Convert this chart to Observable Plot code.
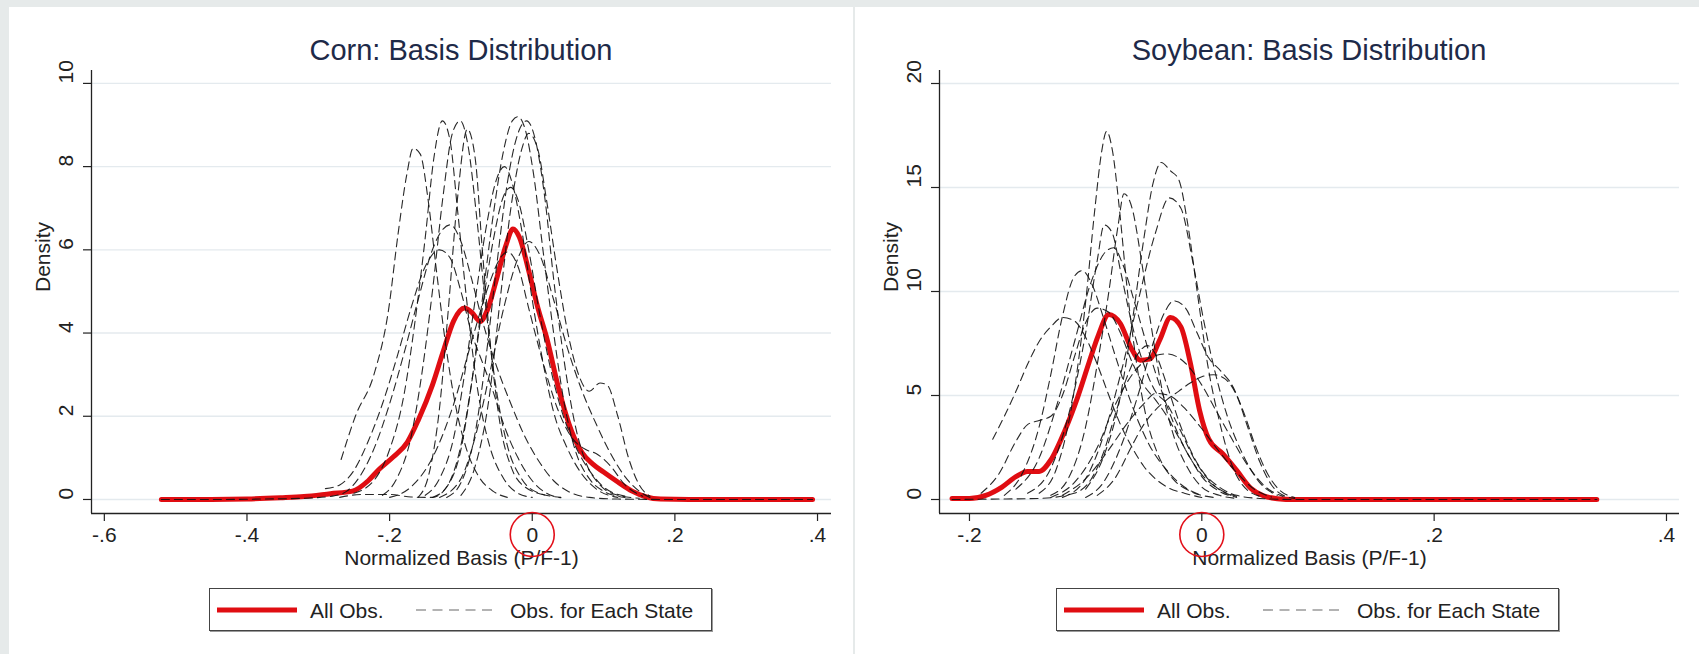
<!DOCTYPE html>
<html>
<head>
<meta charset="utf-8">
<script src="https://cdn.jsdelivr.net/npm/d3@7"></script>
<script src="https://cdn.jsdelivr.net/npm/@observablehq/plot@0.6"></script>
<style>
  html, body { margin: 0; padding: 0; }
  body { width: 1699px; height: 654px; overflow: hidden; background: #e6eaea; position: relative;
         font-family: "Liberation Sans", Arial, sans-serif; }
  .panel { position: absolute; top: 7px; height: 647px; background: #fff; }
  .chart { position: absolute; top: 0; }
  .title { position: absolute; transform: translate(-50%, -50%); font-size: 29px; color: #1e2a48; white-space: nowrap; }
  .legend { position: absolute; top: 588px; width: 503px; height: 43px; box-sizing: border-box;
            border: 1px solid #444; box-shadow: 1px 1px 0 #9a9a9a; background: #fff; }
</style>
</head>
<body>
<div class="panel" style="left:9px;width:844px"></div>
<div class="panel" style="left:855px;width:844px"></div>
<div id="corn" class="chart" style="left:0px"></div>
<div id="soy" class="chart" style="left:850px"></div>
<div class="title" style="left:461px;top:50px">Corn: Basis Distribution</div>
<div class="title" style="left:1309px;top:50px">Soybean: Basis Distribution</div>
<div id="legCorn" class="legend" style="left:209px"></div>
<div id="legSoy" class="legend" style="left:1056px"></div>
<script>
// ---------------- DATA ----------------
const xAxisTitle = "Normalized Basis (P/F-1)";
const yAxisTitle = "Density";
const legendLabels = ["All Obs.", "Obs. for Each State"];

const cornXTicks = [-0.6, -0.4, -0.2, 0, 0.2, 0.4];
const cornXTickLabels = ["-.6", "-.4", "-.2", "0", ".2", ".4"];
const cornYTicks = [0, 2, 4, 6, 8, 10];
const cornYTickLabels = ["0", "2", "4", "6", "8", "10"];

const soyXTicks = [-0.2, 0, 0.2, 0.4];
const soyXTickLabels = ["-.2", "0", ".2", ".4"];
const soyYTicks = [0, 5, 10, 15, 20];
const soyYTickLabels = ["0", "5", "10", "15", "20"];

// Corn: density of all observations [basis, density]
const cornAll = [[-0.52,0.0],[-0.45,0.0],[-0.4,0.01],[-0.353,0.04],[-0.32,0.07],[-0.283,0.14],[-0.252,0.2],[-0.23,0.45],[-0.215,0.72],[-0.195,1.02],[-0.175,1.38],[-0.16,1.9],[-0.14,2.75],[-0.125,3.55],[-0.11,4.3],[-0.095,4.6],[-0.085,4.5],[-0.073,4.28],[-0.063,4.55],[-0.05,5.3],[-0.037,6.1],[-0.027,6.5],[-0.018,6.3],[-0.005,5.5],[0.008,4.6],[0.02,3.9],[0.038,2.6],[0.055,1.65],[0.07,1.12],[0.085,0.85],[0.1,0.66],[0.12,0.42],[0.14,0.2],[0.16,0.06],[0.18,0.01],[0.22,0.0],[0.3,0.0],[0.393,0.0]];

// Corn: density for each state
const cornStates = [
 [[-0.268,0.96],[-0.248,2.0],[-0.222,3.0],[-0.202,4.5],[-0.188,6.4],[-0.176,7.8],[-0.167,8.44],[-0.157,8.3],[-0.146,7.2],[-0.135,5.6],[-0.122,3.8],[-0.108,2.3],[-0.092,1.2],[-0.075,0.55],[-0.055,0.2],[-0.035,0.05]],
 [[-0.25,0.15],[-0.22,0.5],[-0.2,1.2],[-0.18,2.5],[-0.165,4.2],[-0.15,6.3],[-0.138,8.2],[-0.126,9.1],[-0.115,8.6],[-0.105,7.0],[-0.092,4.8],[-0.078,2.8],[-0.06,1.3],[-0.04,0.5],[-0.02,0.15],[0.0,0.05]],
 [[-0.21,0.1],[-0.19,0.5],[-0.17,1.5],[-0.155,3.0],[-0.14,5.0],[-0.125,7.3],[-0.112,8.8],[-0.101,9.1],[-0.09,8.5],[-0.078,6.8],[-0.065,4.6],[-0.05,2.6],[-0.035,1.3],[-0.015,0.5],[0.01,0.15],[0.04,0.05]],
 [[-0.16,0.05],[-0.145,0.6],[-0.13,2.2],[-0.118,4.5],[-0.105,7.2],[-0.091,8.9],[-0.08,8.2],[-0.07,6.0],[-0.058,3.6],[-0.045,1.8],[-0.03,0.8],[-0.01,0.3],[0.02,0.1]],
 [[-0.14,0.05],[-0.12,0.3],[-0.1,1.2],[-0.085,2.8],[-0.07,4.8],[-0.055,6.8],[-0.04,8.4],[-0.028,9.1],[-0.02,9.2],[-0.01,8.9],[0.002,7.8],[0.015,6.0],[0.03,4.0],[0.045,2.3],[0.06,1.2],[0.08,0.5],[0.1,0.2],[0.13,0.05]],
 [[-0.12,0.05],[-0.1,0.4],[-0.08,1.6],[-0.065,3.4],[-0.05,5.6],[-0.035,7.6],[-0.02,8.8],[-0.008,9.1],[0.005,8.6],[0.018,7.2],[0.03,5.3],[0.045,3.3],[0.06,1.8],[0.075,0.9],[0.095,0.35],[0.12,0.1],[0.15,0.03]],
 [[-0.1,0.1],[-0.08,0.8],[-0.06,2.5],[-0.045,4.8],[-0.03,7.0],[-0.015,8.4],[-0.005,8.8],[0.008,8.4],[0.02,7.2],[0.035,5.5],[0.05,4.0],[0.065,3.0],[0.08,2.6],[0.095,2.8],[0.105,2.75],[0.12,2.0],[0.135,1.0],[0.15,0.35],[0.165,0.08]],
 [[-0.15,0.1],[-0.13,0.5],[-0.11,1.5],[-0.095,3.0],[-0.08,4.8],[-0.065,6.5],[-0.05,7.7],[-0.039,8.0],[-0.028,7.6],[-0.015,6.5],[0.0,4.8],[0.015,3.3],[0.03,2.1],[0.05,1.2],[0.07,0.6],[0.09,0.25],[0.12,0.05]],
 [[-0.2,0.05],[-0.17,0.3],[-0.14,1.0],[-0.11,2.3],[-0.085,3.8],[-0.06,5.2],[-0.045,5.8],[-0.035,5.95],[-0.02,5.6],[-0.005,4.6],[0.015,3.3],[0.035,2.2],[0.055,1.5],[0.075,1.2],[0.09,1.1],[0.11,0.8],[0.13,0.35],[0.155,0.08]],
 [[-0.52,0.0],[-0.45,0.0],[-0.38,0.01],[-0.32,0.03],[-0.28,0.08],[-0.26,0.2],[-0.24,0.6],[-0.22,1.3],[-0.2,2.3],[-0.18,3.5],[-0.16,4.8],[-0.14,6.0],[-0.125,6.5],[-0.115,6.6],[-0.1,6.2],[-0.085,5.3],[-0.07,4.3],[-0.05,3.2],[-0.03,2.3],[-0.01,1.5],[0.01,0.9],[0.03,0.45],[0.05,0.2],[0.08,0.05],[0.12,0.01],[0.2,0.0],[0.3,0.0],[0.393,0.0]],
 [[-0.29,0.26],[-0.27,0.35],[-0.25,0.7],[-0.23,1.4],[-0.21,2.3],[-0.19,3.4],[-0.17,4.6],[-0.15,5.6],[-0.13,6.0],[-0.115,5.8],[-0.1,5.0],[-0.085,4.0],[-0.07,3.3],[-0.055,2.6],[-0.04,1.8],[-0.02,1.0],[0.0,0.45],[0.02,0.15],[0.04,0.04]],
 [[-0.27,0.05],[-0.24,0.12],[-0.2,0.12],[-0.17,0.06],[-0.14,0.05],[-0.12,0.3],[-0.1,1.3],[-0.085,2.8],[-0.07,4.6],[-0.055,6.2],[-0.04,7.3],[-0.03,7.5],[-0.02,7.2],[-0.005,6.0],[0.01,4.5],[0.025,3.2],[0.04,2.2],[0.06,1.3],[0.08,0.7],[0.1,0.3],[0.13,0.08]],
 [[-0.13,0.05],[-0.1,0.5],[-0.08,1.5],[-0.06,3.0],[-0.04,4.6],[-0.02,5.8],[-0.005,6.2],[0.01,5.9],[0.03,4.8],[0.05,3.6],[0.07,2.6],[0.09,1.8],[0.11,1.1],[0.13,0.55],[0.15,0.2],[0.165,0.05]]
];

// Soybean: density of all observations
const soyAll = [[-0.215,0.05],[-0.2,0.05],[-0.186,0.2],[-0.172,0.6],[-0.16,1.1],[-0.15,1.35],[-0.14,1.35],[-0.13,1.9],[-0.118,3.3],[-0.107,4.9],[-0.097,6.6],[-0.089,7.9],[-0.08,8.9],[-0.07,8.45],[-0.061,7.3],[-0.053,6.7],[-0.045,6.75],[-0.036,7.7],[-0.027,8.75],[-0.018,8.3],[-0.01,6.6],[-0.002,4.3],[0.006,2.9],[0.018,2.2],[0.03,1.4],[0.042,0.55],[0.053,0.18],[0.065,0.04],[0.08,0.0],[0.2,0.0],[0.34,0.0]];

// Soybean: density for each state
const soyStates = [
 [[-0.14,0.3],[-0.125,1.5],[-0.112,4.5],[-0.1,9.5],[-0.092,14.0],[-0.086,16.8],[-0.082,17.7],[-0.077,16.8],[-0.071,14.0],[-0.064,10.0],[-0.056,6.5],[-0.048,4.0],[-0.038,2.2],[-0.025,1.0],[-0.01,0.4],[0.01,0.1]],
 [[-0.13,0.2],[-0.115,1.0],[-0.1,3.5],[-0.09,6.5],[-0.08,10.0],[-0.072,13.2],[-0.067,14.7],[-0.06,14.0],[-0.052,11.5],[-0.044,8.5],[-0.035,5.5],[-0.025,3.2],[-0.012,1.5],[0.0,0.6],[0.015,0.2],[0.03,0.05]],
 [[-0.1,0.5],[-0.085,2.0],[-0.07,5.0],[-0.06,8.5],[-0.05,12.5],[-0.042,15.2],[-0.035,16.2],[-0.027,15.8],[-0.02,15.4],[-0.012,13.2],[-0.004,10.0],[0.005,6.5],[0.015,3.8],[0.025,1.8],[0.035,0.7],[0.05,0.15]],
 [[-0.12,0.1],[-0.1,1.0],[-0.085,3.0],[-0.07,6.0],[-0.055,9.5],[-0.04,12.8],[-0.028,14.5],[-0.018,14.0],[-0.008,11.5],[0.002,8.5],[0.012,6.0],[0.022,4.0],[0.035,2.2],[0.05,0.8],[0.065,0.2]],
 [[-0.16,0.5],[-0.14,2.0],[-0.125,4.5],[-0.11,7.5],[-0.095,10.5],[-0.083,11.9],[-0.076,12.1],[-0.068,11.3],[-0.058,9.5],[-0.045,7.0],[-0.03,4.5],[-0.015,2.5],[0.0,1.2],[0.015,0.5],[0.03,0.15]],
 [[-0.15,0.3],[-0.13,1.5],[-0.115,4.0],[-0.1,8.0],[-0.09,11.5],[-0.084,13.2],[-0.077,12.8],[-0.07,11.0],[-0.06,8.4],[-0.05,6.5],[-0.04,5.2],[-0.03,4.6],[-0.02,3.5],[-0.005,1.8],[0.01,0.7],[0.025,0.2]],
 [[-0.18,2.9],[-0.17,4.0],[-0.16,5.2],[-0.15,6.5],[-0.14,7.6],[-0.13,8.3],[-0.12,8.75],[-0.11,8.6],[-0.1,7.8],[-0.09,6.5],[-0.08,5.0],[-0.07,3.6],[-0.06,2.5],[-0.05,1.6],[-0.04,1.0],[-0.03,0.6],[-0.015,0.3],[0.0,0.1]],
 [[-0.17,0.2],[-0.155,1.2],[-0.14,3.5],[-0.13,6.0],[-0.12,8.8],[-0.11,10.7],[-0.103,11.0],[-0.095,10.4],[-0.085,8.8],[-0.075,7.0],[-0.065,5.3],[-0.055,3.8],[-0.045,2.6],[-0.03,1.4],[-0.015,0.6],[0.0,0.2]],
 [[-0.1,0.1],[-0.085,0.8],[-0.07,2.5],[-0.055,5.0],[-0.042,7.5],[-0.032,9.0],[-0.024,9.55],[-0.014,9.2],[-0.004,8.0],[0.006,6.8],[0.016,6.2],[0.026,5.5],[0.036,4.2],[0.046,2.6],[0.056,1.3],[0.066,0.5],[0.08,0.1]],
 [[-0.13,0.1],[-0.11,0.8],[-0.09,2.5],[-0.075,4.5],[-0.06,6.0],[-0.045,6.8],[-0.03,7.0],[-0.015,6.6],[0.0,5.5],[0.012,4.3],[0.025,3.0],[0.04,1.6],[0.055,0.6],[0.07,0.15]],
 [[-0.12,0.2],[-0.1,1.0],[-0.08,2.4],[-0.065,3.6],[-0.05,4.6],[-0.04,5.1],[-0.028,5.0],[-0.015,4.4],[0.0,3.4],[0.015,2.3],[0.03,1.3],[0.045,0.5],[0.06,0.12]],
 [[-0.215,0.0],[-0.18,0.02],[-0.14,0.05],[-0.11,0.3],[-0.095,1.0],[-0.085,2.2],[-0.075,4.0],[-0.065,5.8],[-0.055,7.0],[-0.047,7.4],[-0.04,7.0],[-0.03,5.5],[-0.02,3.8],[-0.01,2.4],[0.0,1.4],[0.015,0.6],[0.03,0.2],[0.05,0.05],[0.08,0.0],[0.2,0.0],[0.34,0.0]],
 [[-0.19,0.3],[-0.175,1.2],[-0.16,2.8],[-0.15,3.6],[-0.14,3.8],[-0.13,4.0],[-0.12,5.0],[-0.11,6.8],[-0.1,8.5],[-0.09,9.2],[-0.08,9.0],[-0.07,8.0],[-0.06,6.6],[-0.05,5.5],[-0.04,4.8],[-0.03,4.0],[-0.02,3.0],[-0.01,2.0],[0.0,1.1],[0.015,0.4],[0.03,0.1]],
 [[-0.09,0.2],[-0.075,1.0],[-0.06,2.6],[-0.05,3.6],[-0.04,4.3],[-0.03,4.8],[-0.02,5.2],[-0.01,5.6],[0.0,5.9],[0.01,6.0],[0.02,5.8],[0.03,5.0],[0.04,3.4],[0.05,1.8],[0.06,0.7],[0.07,0.2],[0.08,0.05]]
];

// ---------------- STYLE ----------------
const FONT = '"Liberation Sans", Arial, sans-serif';
const RED = "#e00d12";
const INK = "#222";

function makeChart(o) {
  const allRows = o.all.map(([x, y]) => ({x, y}));
  const stateRows = o.states.flatMap((pts, s) => pts.map(([x, y]) => ({x, y, s})));
  return Plot.plot({
    width: o.width, height: 600,
    marginLeft: o.marginLeft, marginRight: o.marginRight, marginTop: 70, marginBottom: 87,
    x: {domain: o.xDomain},
    y: {domain: o.yDomain},
    style: {background: "transparent", fontFamily: FONT, color: INK, overflow: "visible"},
    marks: [
      Plot.ruleY(o.yTicks, {y: d => d, stroke: "#e4eaee", strokeWidth: 1.4}),
      Plot.axisY({ticks: o.yTicks, tickSize: 8, tickFormat: () => "", label: null, strokeWidth: 1.2}),
      Plot.axisX({ticks: o.xTicks, tickSize: 8, tickFormat: () => "", label: null, strokeWidth: 1.2}),
      Plot.ruleX([o.xDomain[0]], {stroke: INK, strokeWidth: 1.3}),
      Plot.ruleY([o.yDomain[0]], {stroke: INK, strokeWidth: 1.3}),
      Plot.line(allRows, {x: "x", y: "y", stroke: RED, strokeWidth: 5, curve: "monotone-x", strokeLinejoin: "round", strokeLinecap: "round"}),
      Plot.line(stateRows, {x: "x", y: "y", z: "s", stroke: "#111", strokeWidth: 1.1, strokeOpacity: 0.9, strokeDasharray: "8,5", curve: "monotone-x"}),
      Plot.text(o.xTicks, {x: d => d, text: (d, i) => o.xTickLabels[i], frameAnchor: "bottom", dy: 28, fontSize: 21, fill: INK}),
      Plot.text(o.yTicks, {y: d => d, text: (d, i) => o.yTickLabels[i], frameAnchor: "left", dx: -25, rotate: -90, fontSize: 21, fill: INK}),
      Plot.text([yAxisTitle], {text: d => d, frameAnchor: "left", dx: -48, rotate: -90, fontSize: 21, fill: INK}),
      Plot.text([xAxisTitle], {text: d => d, frameAnchor: "bottom", dy: 51, fontSize: 21, fill: INK}),
      Plot.dot([0], {x: d => d, frameAnchor: "bottom", dy: 21, r: 22, stroke: "#e3101a", strokeWidth: 1.6, fill: "none"})
    ]
  });
}

document.getElementById("corn").append(makeChart({
  all: cornAll, states: cornStates, width: 850, marginLeft: 91, marginRight: 19,
  xDomain: [-0.618, 0.4196], yDomain: [-0.337, 10.31],
  xTicks: cornXTicks, xTickLabels: cornXTickLabels, yTicks: cornYTicks, yTickLabels: cornYTickLabels
}));
document.getElementById("soy").append(makeChart({
  all: soyAll, states: soyStates, width: 849, marginLeft: 89, marginRight: 20,
  xDomain: [-0.2258, 0.4112], yDomain: [-0.673, 20.625],
  xTicks: soyXTicks, xTickLabels: soyXTickLabels, yTicks: soyYTicks, yTickLabels: soyYTickLabels
}));

function legendSvg() {
  const svg = d3.create("svg").attr("width", 501).attr("height", 41).style("display", "block")
    .style("font-family", FONT).style("font-size", "21px");
  svg.append("line").attr("x1", 7).attr("x2", 87).attr("y1", 21).attr("y2", 21)
    .attr("stroke", RED).attr("stroke-width", 5);
  svg.append("text").attr("x", 100).attr("y", 28.5).attr("fill", INK).text(legendLabels[0]);
  svg.append("line").attr("x1", 206).attr("x2", 287).attr("y1", 21).attr("y2", 21)
    .attr("stroke", "#9a9a9a").attr("stroke-width", 1.6).attr("stroke-dasharray", "10,6.5");
  svg.append("text").attr("x", 300).attr("y", 28.5).attr("fill", INK).text(legendLabels[1]);
  return svg.node();
}
document.getElementById("legCorn").append(legendSvg());
document.getElementById("legSoy").append(legendSvg());
</script>
</body>
</html>
